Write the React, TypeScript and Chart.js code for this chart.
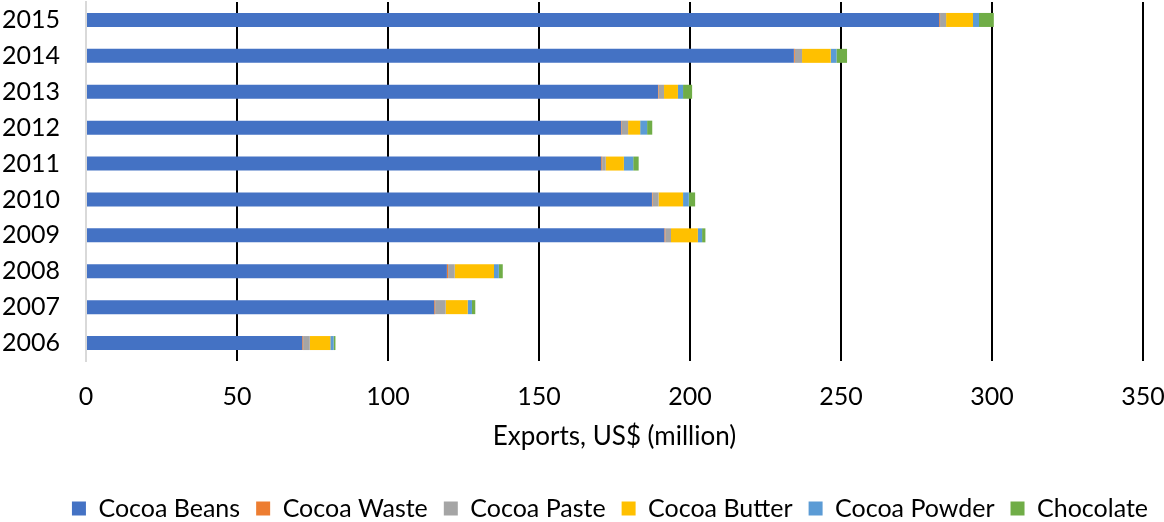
import React, { useEffect, useRef } from 'react';
import { Chart, registerables } from 'chart.js';

Chart.register(...registerables);

const years = ['2006', '2007', '2008', '2009', '2010', '2011', '2012', '2013', '2014', '2015'];
const cocoaBeans = [71.6, 115.3, 119.5, 191.5, 187.4, 170.6, 177.2, 189.4, 234.4, 282.5];
const cocoaWaste = [0.3, 0.3, 0.4, 0.3, 0.2, 0.3, 0.2, 0.2, 0.3, 0.3];
const cocoaPaste = [2.2, 3.5, 2.2, 1.9, 2.0, 1.2, 2.1, 1.8, 2.4, 2.0];
const cocoaButter = [6.8, 7.3, 13.0, 8.9, 8.1, 6.0, 4.0, 4.6, 9.5, 8.9];
const cocoaPowder = [1.1, 1.4, 1.6, 1.4, 1.9, 3.1, 2.3, 1.7, 1.9, 2.0];
const chocolate = [0.6, 1.1, 1.3, 1.1, 2.1, 1.8, 1.7, 3.0, 3.5, 4.9];

const seriesNames = ['Cocoa Beans', 'Cocoa Waste', 'Cocoa Paste', 'Cocoa Butter', 'Cocoa Powder', 'Chocolate'];
const seriesColors = ['#4472C4', '#ED7D31', '#A5A5A5', '#FFC000', '#5B9BD5', '#70AD47'];
const seriesValues = [cocoaBeans, cocoaWaste, cocoaPaste, cocoaButter, cocoaPowder, chocolate];

const FONT = 'Lato, "Noto Sans", sans-serif';

export default function App() {
  const ref = useRef<HTMLCanvasElement | null>(null);

  useEffect(() => {
    document.body.style.margin = '0';
    const canvas = ref.current;
    if (!canvas) return;
    const legendPatch = {
      id: 'legendPatch',
      beforeInit(chart: any) {
        const lg = chart.legend;
        if (lg && !lg.__patched) {
          const orig = lg.fit.bind(lg);
          lg.fit = function () {
            orig();
            this.height = 42;
          };
          lg.__patched = true;
        }
      },
    };
    const chart = new Chart(canvas, {
      type: 'bar',
      data: {
        labels: years,
        datasets: seriesNames.map((name, i) => ({
          label: name,
          data: seriesValues[i],
          backgroundColor: seriesColors[i],
          borderWidth: 0,
          barPercentage: 0.5,
          categoryPercentage: 0.78,
        })),
      },
      options: {
        indexAxis: 'y',
        responsive: false,
        animation: false,
        layout: { padding: { top: 2, right: 0, left: 0, bottom: 0 } },
        scales: {
          x: {
            stacked: true,
            min: 0,
            max: 350,
            ticks: {
              stepSize: 50,
              color: '#000',
              font: { family: FONT, size: 25 },
              padding: 21,
              maxRotation: 0,
            },
            grid: {
              color: (ctx: any) => (ctx.tick && ctx.tick.value === 0 ? 'rgba(0,0,0,0)' : '#000'),
              lineWidth: 2,
              drawTicks: false,
            },
            border: { display: false },
            title: {
              display: true,
              text: 'Exports, US$ (million)',
              color: '#000',
              font: { family: FONT, size: 26 },
              padding: { top: 0, bottom: 28 },
            },
            afterFit: (scale: any) => {
              scale.height = 119;
              scale.paddingLeft = 0;
              scale.paddingRight = 21;
            },
          },
          y: {
            stacked: true,
            reverse: true,
            ticks: {
              color: '#000',
              font: { family: FONT, size: 25 },
              padding: 26,
            },
            grid: { display: false, drawTicks: false },
            border: { display: true, color: '#D9D9D9', width: 2 },
            afterFit: (scale: any) => {
              scale.width = 86;
              scale.paddingTop = 0;
              scale.paddingBottom = 0;
            },
          },
        },
        plugins: {
          legend: {
            position: 'bottom',
            align: 'end',
            labels: {
              boxWidth: 14,
              boxHeight: 14,
              padding: 16,
              color: '#000',
              font: { family: FONT, size: 25 },
            },
          },
          tooltip: { enabled: false },
        },
      },
      plugins: [legendPatch],
    } as any);
    return () => chart.destroy();
  }, []);

  return <canvas ref={ref} width={1164} height={522} style={{ display: 'block' }} />;
}
